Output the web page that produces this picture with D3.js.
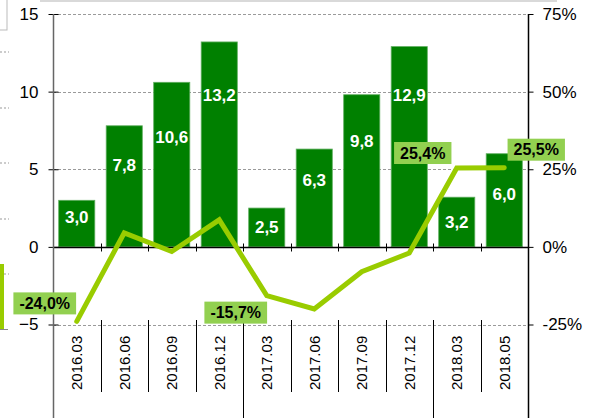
<!DOCTYPE html>
<html>
<head>
<meta charset="utf-8">
<script src="https://cdn.jsdelivr.net/npm/d3@7"></script>
<style>
  body { margin: 0; background: #fff; }
  svg { display: block; font-family: "Liberation Sans", Arial, sans-serif; }
</style>
</head>
<body>
<div class="chart"></div>
<script>
// data
var categories = ["2016.03", "2016.06", "2016.09", "2016.12", "2017.03", "2017.06", "2017.09", "2017.12", "2018.03", "2018.05"];
var barValues = [3.0, 7.8, 10.6, 13.2, 2.5, 6.3, 9.8, 12.9, 3.2, 6.0];
var lineValues = [-24.0, 4.5, -1.5, 8.7, -15.7, -20.0, -8.0, -2.0, 25.4, 25.5];
var leftTicks = [-5, 0, 5, 10, 15];
var rightTicks = [-25, 0, 25, 50, 75];
var yearBreaks = [4, 8]; // category index where a new year starts

// where the bar labels sit (in left-axis units) and which line points are labelled
var barLabelAt = [1.9, 5.3, 7.1, 9.8, 1.3, 4.3, 6.8, 9.8, 1.6, 3.4];
var lineLabels = [
  {i: 0, dx: -32, dy: -18},
  {i: 4, dx: -31, dy: 17},
  {i: 8, dx: -34, dy: -15},
  {i: 9, dx: 32, dy: -18}
];

var width = 592, height = 418;
var plotLeft = 53, plotRight = 528, plotTop = 14, plotBottom = 324.5;

var svg = d3.select(".chart").append("svg")
    .attr("width", width)
    .attr("height", height);

// bits of the neighbouring chart that show at the left edge
svg.append("line").attr("x1", 40).attr("x2", 557).attr("y1", 1).attr("y2", 1)
    .attr("stroke", "#d9d9d9").attr("stroke-width", 2);
svg.append("rect").attr("x", -2).attr("y", -2).attr("width", 9).attr("height", 32)
    .attr("fill", "#fff").attr("stroke", "#bbb");
[52, 108, 163, 219, 274].forEach(function(yy) {
  svg.append("line").attr("x1", 0).attr("x2", 9).attr("y1", yy).attr("y2", yy)
      .attr("stroke", "#999").attr("stroke-dasharray", "2,2");
});
svg.append("rect").attr("x", 0).attr("y", 264).attr("width", 4).attr("height", 65).attr("fill", "#99cc00");
svg.append("line").attr("x1", 0).attr("x2", 8).attr("y1", 329.5).attr("y2", 329.5).attr("stroke", "#888");

var x = d3.scaleBand()
    .domain(categories)
    .range([plotLeft, plotRight])
    .paddingInner(0.24)
    .paddingOuter(0.12);

var step = x.step();

var yL = d3.scaleLinear().domain([-5, 15]).range([plotBottom, plotTop]);
var yR = d3.scaleLinear().domain([-25, 75]).range([plotBottom, plotTop]);

// gridlines
svg.selectAll(".grid")
    .data(leftTicks.filter(function(d) { return d !== 0; }))
    .enter().append("line")
    .attr("x1", plotLeft).attr("x2", plotRight)
    .attr("y1", function(d) { return Math.round(yL(d)) + 0.5; })
    .attr("y2", function(d) { return Math.round(yL(d)) + 0.5; })
    .attr("stroke", "#9a9a9a")
    .attr("stroke-dasharray", "3,2");

// bars
svg.selectAll(".bar")
    .data(barValues)
    .enter().append("rect")
    .attr("x", function(d, i) { return x(categories[i]); })
    .attr("y", function(d) { return yL(d); })
    .attr("width", x.bandwidth())
    .attr("height", function(d) { return yL(0) - yL(d); })
    .attr("fill", "#008000")
    .attr("stroke", "#5fae5f")
    .attr("stroke-width", 0.8);

svg.selectAll(".barlabel")
    .data(barValues)
    .enter().append("text")
    .attr("x", function(d, i) { return x(categories[i]) + x.bandwidth() / 2; })
    .attr("y", function(d, i) { return yL(barLabelAt[i]); })
    .attr("dy", "0.36em")
    .attr("text-anchor", "middle")
    .attr("fill", "#fff")
    .attr("font-weight", "bold")
    .attr("font-size", "17px")
    .text(function(d) { return d.toFixed(1).replace(".", ","); });

// zero line with crossing category ticks
var y0 = Math.round(yL(0)) + 0.5;
svg.append("line").attr("x1", plotLeft).attr("x2", plotRight).attr("y1", y0).attr("y2", y0)
    .attr("stroke", "#000").attr("stroke-width", 1.5);
d3.range(1, categories.length).forEach(function(i) {
  var xx = Math.round(plotLeft + i * step) + 0.5;
  svg.append("line").attr("x1", xx).attr("x2", xx).attr("y1", y0 - 4).attr("y2", y0 + 4)
      .attr("stroke", "#000");
});

// category separators below the plot
d3.range(1, categories.length).forEach(function(i) {
  var xx = Math.round(plotLeft + i * step) + 0.5;
  var long = yearBreaks.indexOf(i) >= 0;
  svg.append("line").attr("x1", xx).attr("x2", xx)
      .attr("y1", 320).attr("y2", long ? height : 392)
      .attr("stroke", "#000");
});

svg.selectAll(".cat")
    .data(categories)
    .enter().append("text")
    .attr("transform", function(d) { return "translate(" + (x(d) + x.bandwidth() / 2) + ",390) rotate(-90)"; })
    .attr("dy", "0.36em")
    .attr("font-size", "15px")
    .attr("fill", "#000")
    .text(function(d) { return d; });

// left axis
var leftAxis = svg.append("g")
    .attr("transform", "translate(" + (plotLeft + 0.5) + ",0)")
    .call(d3.axisLeft(yL).tickValues(leftTicks).tickSize(5).tickFormat(d3.format("d")));
leftAxis.select(".domain").remove();
leftAxis.selectAll(".tick line").attr("x1", -5).attr("x2", 5).attr("stroke", "#000");
leftAxis.selectAll(".tick text")
    .attr("x", -15)
    .attr("font-size", "17px")
    .attr("font-family", "Liberation Sans, Arial, sans-serif")
    .attr("fill", "#000");
svg.append("line").attr("x1", plotLeft + 0.5).attr("x2", plotLeft + 0.5).attr("y1", plotTop).attr("y2", height)
    .attr("stroke", "#666").attr("stroke-width", 1.5);

// right axis
var rightAxis = svg.append("g")
    .attr("transform", "translate(" + (plotRight + 0.5) + ",0)")
    .call(d3.axisRight(yR).tickValues(rightTicks).tickSize(5).tickFormat(function(d) { return d + "%"; }));
rightAxis.select(".domain").remove();
rightAxis.selectAll(".tick line").attr("stroke", "#000");
rightAxis.selectAll(".tick text")
    .attr("x", 14)
    .attr("font-size", "17px")
    .attr("font-family", "Liberation Sans, Arial, sans-serif")
    .attr("fill", "#000");
svg.append("line").attr("x1", plotRight + 0.5).attr("x2", plotRight + 0.5).attr("y1", plotTop).attr("y2", height)
    .attr("stroke", "#000").attr("stroke-width", 1.5);

// change line
var line = d3.line()
    .x(function(d, i) { return x(categories[i]) + x.bandwidth() / 2; })
    .y(function(d) { return yR(d); });

svg.append("path")
    .datum(lineValues)
    .attr("d", line)
    .attr("fill", "none")
    .attr("stroke", "#99cc00")
    .attr("stroke-width", 5)
    .attr("stroke-linejoin", "miter")
    .attr("stroke-linecap", "round");

// labels on the line
lineLabels.forEach(function(l) {
  var cx = x(categories[l.i]) + x.bandwidth() / 2 + l.dx;
  var cy = yR(lineValues[l.i]) + l.dy;
  var g = svg.append("g");
  var box = g.append("rect").attr("fill", "#92d050");
  var t = g.append("text")
      .attr("x", cx).attr("y", cy)
      .attr("dy", "0.36em")
      .attr("text-anchor", "middle")
      .attr("font-weight", "bold")
      .attr("font-size", "16px")
      .attr("fill", "#000")
      .text(lineValues[l.i].toFixed(1).replace(".", ",") + "%");
  var w = t.node().getComputedTextLength() + 12;
  box.attr("x", cx - w / 2).attr("y", cy - 11).attr("width", w).attr("height", 22);
});
</script>
</body>
</html>
